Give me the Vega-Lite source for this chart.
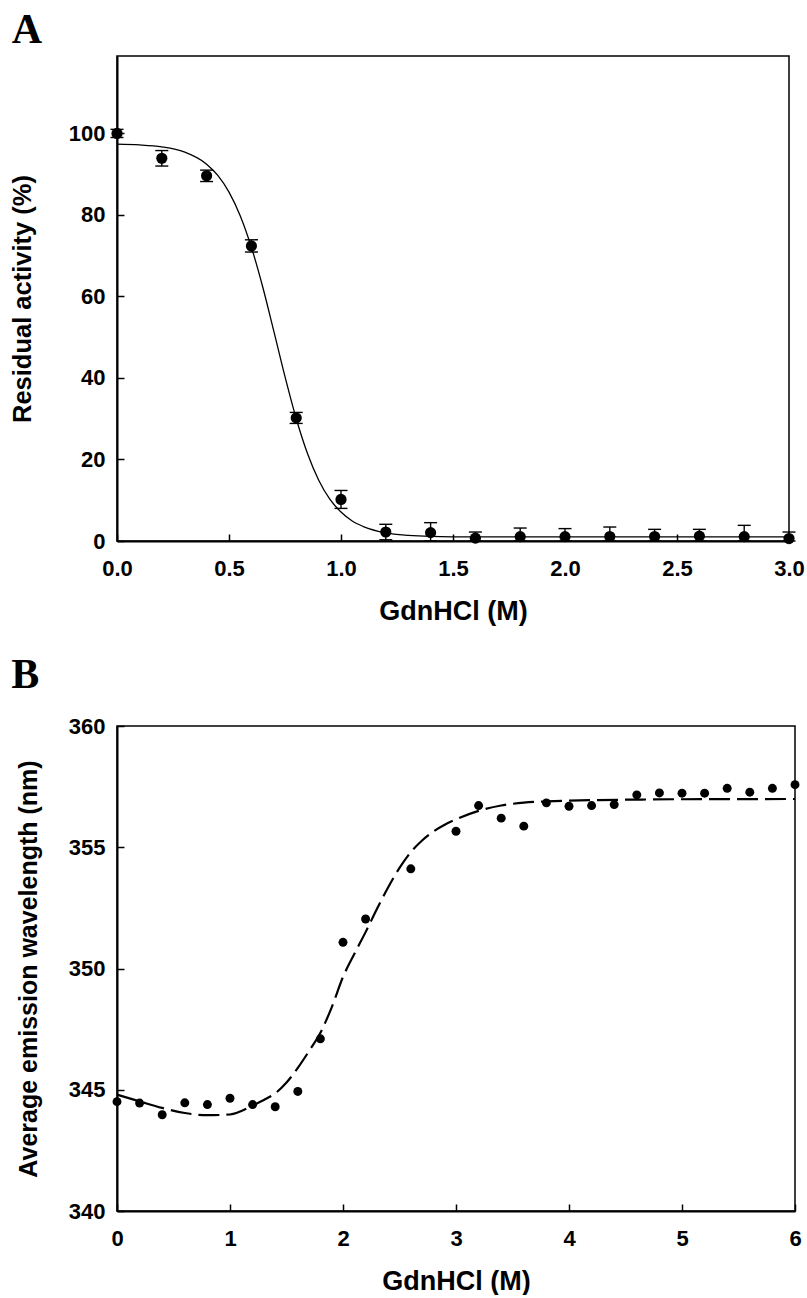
{
  "$schema": "https://vega.github.io/schema/vega-lite/v6.json",
  "background": "white",
  "padding": {"left": 10, "top": 8, "right": 0, "bottom": 0},
  "spacing": 28,
  "datasets": {
    "pointsA": [
      {"conc": 0.0, "act": 100.0, "lo": 99.0, "hi": 101.0},
      {"conc": 0.2, "act": 93.9, "lo": 92.0, "hi": 95.8},
      {"conc": 0.4, "act": 89.6, "lo": 88.2, "hi": 91.0},
      {"conc": 0.6, "act": 72.4, "lo": 70.9, "hi": 73.9},
      {"conc": 0.8, "act": 30.2, "lo": 28.85, "hi": 31.55},
      {"conc": 1.0, "act": 10.2, "lo": 8.0, "hi": 12.4},
      {"conc": 1.2, "act": 2.2, "lo": 0.3, "hi": 4.1},
      {"conc": 1.4, "act": 2.05, "lo": 0.0, "hi": 4.5},
      {"conc": 1.6, "act": 0.7, "lo": 0.0, "hi": 2.2},
      {"conc": 1.8, "act": 1.07, "lo": 0.0, "hi": 3.18},
      {"conc": 2.0, "act": 1.07, "lo": 0.0, "hi": 3.04},
      {"conc": 2.2, "act": 1.1, "lo": 0.0, "hi": 3.43},
      {"conc": 2.4, "act": 1.1, "lo": 0.0, "hi": 2.86},
      {"conc": 2.6, "act": 1.2, "lo": 0.0, "hi": 2.86},
      {"conc": 2.8, "act": 1.07, "lo": 0.0, "hi": 3.84},
      {"conc": 3.0, "act": 0.6, "lo": 0.0, "hi": 2.2}
    ],
    "curveA": [
      {"conc": 0.0, "act": 97.37},
      {"conc": 0.1, "act": 97.18},
      {"conc": 0.2, "act": 96.69},
      {"conc": 0.3, "act": 95.45},
      {"conc": 0.4, "act": 92.45},
      {"conc": 0.45, "act": 89.7},
      {"conc": 0.5, "act": 85.61},
      {"conc": 0.55, "act": 79.83},
      {"conc": 0.6, "act": 72.07},
      {"conc": 0.65, "act": 62.44},
      {"conc": 0.7, "act": 51.5},
      {"conc": 0.75, "act": 40.34},
      {"conc": 0.8, "act": 30.07},
      {"conc": 0.85, "act": 21.53},
      {"conc": 0.9, "act": 14.98},
      {"conc": 0.95, "act": 10.26},
      {"conc": 1.0, "act": 7.1},
      {"conc": 1.05, "act": 4.9},
      {"conc": 1.1, "act": 3.55},
      {"conc": 1.2, "act": 2.0},
      {"conc": 1.3, "act": 1.4},
      {"conc": 1.4, "act": 1.15},
      {"conc": 1.6, "act": 1.02},
      {"conc": 2.0, "act": 1.0},
      {"conc": 3.0, "act": 1.0}
    ],
    "pointsB": [
      {"conc": 0.0, "wl": 344.51},
      {"conc": 0.2, "wl": 344.45},
      {"conc": 0.4, "wl": 343.97},
      {"conc": 0.6, "wl": 344.46},
      {"conc": 0.8, "wl": 344.39},
      {"conc": 1.0, "wl": 344.65},
      {"conc": 1.2, "wl": 344.39},
      {"conc": 1.4, "wl": 344.3},
      {"conc": 1.6, "wl": 344.93},
      {"conc": 1.8, "wl": 347.1},
      {"conc": 2.0, "wl": 351.08},
      {"conc": 2.2, "wl": 352.04},
      {"conc": 2.6, "wl": 354.11},
      {"conc": 3.0, "wl": 355.66},
      {"conc": 3.2, "wl": 356.72},
      {"conc": 3.4, "wl": 356.2},
      {"conc": 3.6, "wl": 355.87},
      {"conc": 3.8, "wl": 356.83},
      {"conc": 4.0, "wl": 356.69},
      {"conc": 4.2, "wl": 356.72},
      {"conc": 4.4, "wl": 356.76},
      {"conc": 4.6, "wl": 357.16},
      {"conc": 4.8, "wl": 357.24},
      {"conc": 5.0, "wl": 357.23},
      {"conc": 5.2, "wl": 357.23},
      {"conc": 5.4, "wl": 357.43},
      {"conc": 5.6, "wl": 357.27},
      {"conc": 5.8, "wl": 357.43},
      {"conc": 6.0, "wl": 357.58}
    ],
    "curveB": [
      {"conc": 0.0, "wl": 344.8},
      {"conc": 0.2, "wl": 344.52},
      {"conc": 0.4, "wl": 344.25},
      {"conc": 0.6, "wl": 344.04},
      {"conc": 0.8, "wl": 343.95},
      {"conc": 1.0, "wl": 343.98},
      {"conc": 1.1, "wl": 344.12},
      {"conc": 1.2, "wl": 344.35},
      {"conc": 1.3, "wl": 344.58},
      {"conc": 1.4, "wl": 344.85},
      {"conc": 1.5, "wl": 345.3},
      {"conc": 1.6, "wl": 345.9},
      {"conc": 1.7, "wl": 346.6},
      {"conc": 1.8, "wl": 347.35},
      {"conc": 1.9, "wl": 348.4},
      {"conc": 2.0, "wl": 349.65},
      {"conc": 2.1, "wl": 350.6},
      {"conc": 2.2, "wl": 351.5},
      {"conc": 2.3, "wl": 352.45},
      {"conc": 2.4, "wl": 353.35},
      {"conc": 2.5, "wl": 354.15},
      {"conc": 2.6, "wl": 354.8},
      {"conc": 2.7, "wl": 355.28},
      {"conc": 2.8, "wl": 355.65},
      {"conc": 2.9, "wl": 355.93},
      {"conc": 3.0, "wl": 356.15},
      {"conc": 3.2, "wl": 356.5},
      {"conc": 3.4, "wl": 356.72},
      {"conc": 3.6, "wl": 356.84},
      {"conc": 3.8, "wl": 356.89},
      {"conc": 4.0, "wl": 356.92},
      {"conc": 4.5, "wl": 356.96},
      {"conc": 5.0, "wl": 356.98},
      {"conc": 6.0, "wl": 356.99}
    ]
  },
  "vconcat": [
    {
      "width": 672,
      "height": 485,
      "title": {"text": "A", "anchor": "start", "frame": "bounds", "font": "Liberation Serif", "fontSize": 42, "fontWeight": "bold", "color": "black", "baseline": "alphabetic", "offset": -29, "dx": 1},
      "layer": [
        {
          "data": {"name": "curveA"},
          "mark": {"type": "line", "color": "black", "strokeWidth": 1.3, "interpolate": "monotone"},
          "encoding": {
            "x": {"field": "conc", "type": "quantitative", "scale": {"domain": [0, 3], "nice": false},
              "axis": {"title": "GdnHCl (M)", "values": [0, 0.5, 1, 1.5, 2, 2.5, 3], "format": ".1f"}},
            "y": {"field": "act", "type": "quantitative", "scale": {"domain": [0, 119], "nice": false},
              "axis": {"title": "Residual activity (%)", "values": [0, 20, 40, 60, 80, 100], "titlePadding": 32.5, "titleFontSize": 25.5}}
          }
        },
        {
          "data": {"name": "pointsA"},
          "mark": {"type": "circle", "color": "black", "opacity": 1, "size": 125},
          "encoding": {
            "x": {"field": "conc", "type": "quantitative"},
            "y": {"field": "act", "type": "quantitative"}
          }
        },
        {
          "data": {"name": "pointsA"},
          "mark": {"type": "rule", "color": "black", "strokeWidth": 1.4},
          "encoding": {
            "x": {"field": "conc", "type": "quantitative"},
            "y": {"field": "lo", "type": "quantitative"},
            "y2": {"field": "hi"}
          }
        },
        {
          "data": {"name": "pointsA"},
          "mark": {"type": "tick", "color": "black", "orient": "horizontal", "size": 13, "thickness": 1.4, "opacity": 1},
          "encoding": {
            "x": {"field": "conc", "type": "quantitative"},
            "y": {"field": "hi", "type": "quantitative"}
          }
        },
        {
          "data": {"name": "pointsA"},
          "mark": {"type": "tick", "color": "black", "orient": "horizontal", "size": 13, "thickness": 1.4, "opacity": 1},
          "encoding": {
            "x": {"field": "conc", "type": "quantitative"},
            "y": {"field": "lo", "type": "quantitative"}
          }
        }
      ]
    },
    {
      "width": 678,
      "height": 485,
      "title": {"text": "B", "anchor": "start", "frame": "bounds", "font": "Liberation Serif", "fontSize": 42, "fontWeight": "bold", "color": "black", "baseline": "alphabetic", "offset": -15, "dx": -5},
      "layer": [
        {
          "data": {"name": "curveB"},
          "mark": {"type": "line", "color": "black", "strokeWidth": 2.2, "strokeDash": [21, 7], "interpolate": "monotone"},
          "encoding": {
            "x": {"field": "conc", "type": "quantitative", "scale": {"domain": [0, 6], "nice": false},
              "axis": {"title": "GdnHCl (M)", "values": [0, 1, 2, 3, 4, 5, 6], "format": "d"}},
            "y": {"field": "wl", "type": "quantitative", "scale": {"domain": [340, 360], "nice": false, "zero": false},
              "axis": {"title": "Average emission wavelength (nm)", "values": [340, 345, 350, 355, 360], "titlePadding": 27, "titleFontSize": 25}}
          }
        },
        {
          "data": {"name": "pointsB"},
          "mark": {"type": "circle", "color": "black", "opacity": 1, "size": 80},
          "encoding": {
            "x": {"field": "conc", "type": "quantitative"},
            "y": {"field": "wl", "type": "quantitative"}
          }
        }
      ]
    }
  ],
  "config": {
    "view": {"stroke": "black", "strokeWidth": 1.5},
    "title": {"color": "black"},
    "axis": {
      "grid": false,
      "domainColor": "black",
      "domainWidth": 2,
      "tickColor": "black",
      "tickWidth": 1.5,
      "tickSize": -7,
      "labelFont": "Liberation Sans",
      "labelFontWeight": "bold",
      "labelFontSize": 22,
      "labelColor": "black",
      "labelFlush": false,
      "titleFont": "Liberation Sans",
      "titleFontWeight": "bold",
      "titleFontSize": 27,
      "titleColor": "black"
    },
    "axisX": {"labelPadding": 24, "titlePadding": 19},
    "axisY": {"labelPadding": 19}
  }
}
